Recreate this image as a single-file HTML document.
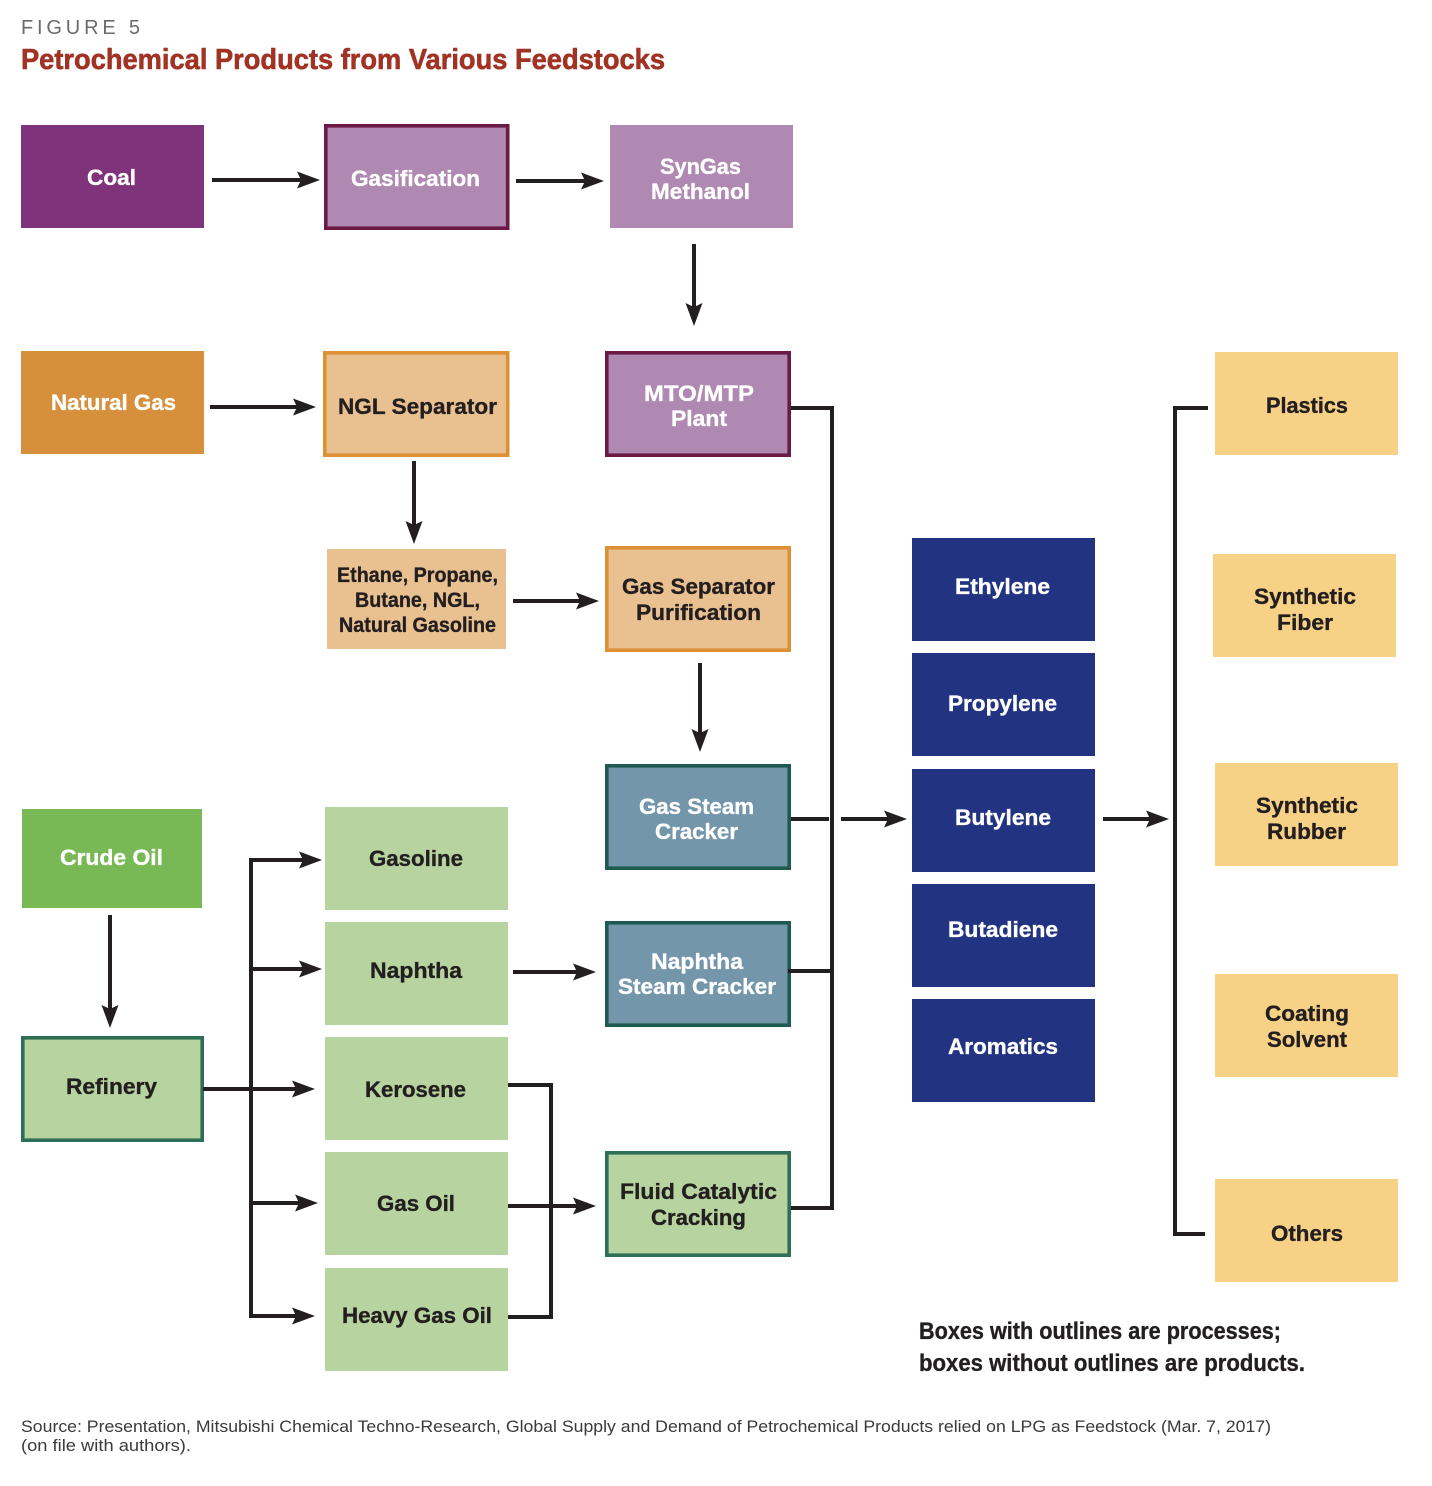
<!DOCTYPE html>
<html><head><meta charset="utf-8"><title>Figure 5</title>
<style>
html,body{margin:0;padding:0;background:#fff}
svg{display:block}
text{font-family:"Liberation Sans",sans-serif}
.w,.d{font-weight:700;font-size:22.5px;stroke-width:.35px}
.w{fill:#fff;stroke:#fff}.d{fill:#231f20;stroke:#231f20}
.l{stroke:#231f20;stroke-width:4;fill:none;stroke-linejoin:miter}
.h{fill:#231f20}
</style></head><body>
<svg width="1432" height="1486" viewBox="0 0 1432 1486" xmlns="http://www.w3.org/2000/svg">
<rect width="1432" height="1486" fill="#fff"/>
<text x="21" y="34" font-size="20" fill="#6a6b6d" textLength="119" lengthAdjust="spacing">FIGURE 5</text>
<text x="21" y="69" font-size="29" font-weight="700" fill="#a13324" stroke="#a13324" stroke-width=".6" textLength="644" lengthAdjust="spacingAndGlyphs">Petrochemical Products from Various Feedstocks</text>

<!-- product boxes -->
<g>
<rect x="21" y="125" width="183" height="103" fill="#7f337a"/>
<rect x="610" y="125" width="183" height="103" fill="#af89b1"/>
<rect x="21" y="351" width="183" height="103" fill="#d68f3a"/>
<rect x="327" y="549" width="179" height="100" fill="#e9c190"/>
<rect x="22" y="809" width="180" height="99" fill="#78b956"/>
<rect x="325" y="807" width="183" height="103" fill="#b7d3a0"/>
<rect x="325" y="922" width="183" height="103" fill="#b7d3a0"/>
<rect x="325" y="1037" width="183" height="103" fill="#b7d3a0"/>
<rect x="325" y="1152" width="183" height="103" fill="#b7d3a0"/>
<rect x="325" y="1268" width="183" height="103" fill="#b7d3a0"/>
<rect x="912" y="538" width="183" height="103" fill="#223382"/>
<rect x="912" y="653" width="183" height="103" fill="#223382"/>
<rect x="912" y="769" width="183" height="103" fill="#223382"/>
<rect x="912" y="884" width="183" height="103" fill="#223382"/>
<rect x="912" y="999" width="183" height="103" fill="#223382"/>
<rect x="1215" y="352" width="183" height="103" fill="#f7d186"/>
<rect x="1213" y="554" width="183" height="103" fill="#f7d186"/>
<rect x="1215" y="763" width="183" height="103" fill="#f7d186"/>
<rect x="1215" y="974" width="183" height="103" fill="#f7d186"/>
<rect x="1215" y="1179" width="183" height="103" fill="#f7d186"/>
</g>
<!-- process boxes -->
<g stroke-width="3.6">
<rect x="325.800" y="125.800" width="181.900" height="102.400" fill="#af89b1" stroke="#6a1a45"/>
<rect x="606.800" y="352.800" width="182.400" height="102.400" fill="#af89b1" stroke="#6a1a45"/>
<rect x="324.800" y="352.800" width="182.900" height="102.400" fill="#e9c190" stroke="#dc9135"/>
<rect x="606.800" y="547.800" width="182.400" height="102.400" fill="#e9c190" stroke="#dc9135"/>
<rect x="606.800" y="765.800" width="182.400" height="102.400" fill="#7496ab" stroke="#1f5a50"/>
<rect x="606.800" y="922.800" width="182.400" height="102.400" fill="#7496ab" stroke="#1f5a50"/>
<rect x="606.800" y="1152.800" width="182.400" height="102.400" fill="#b7d3a0" stroke="#2f6f58"/>
<rect x="22.800" y="1037.800" width="179.400" height="102.400" fill="#b7d3a0" stroke="#2f6f58"/>
</g>

<!-- connector lines -->
<g class="l">
<path d="M212 180H306M516 181H590M694 244V312M210 407H302M414 461V530M513 601H585M700 663V738M841 819H893M1103 819H1155M110 915V1014"/>
<path d="M203 1089H301M251 969H308M251 1203H304M308 860H251V1316H301M513 972H582M508 1206H582"/>
<path d="M508 1085H551V1317H508"/>
<path d="M791 408H832V1208H791"/>
<path d="M791 819H829M788 971H832"/>
<path d="M1208 408H1175V1234H1205"/>
</g>
<!-- arrowheads -->
<g class="h">
<path d="M320 180l-23-8.500 4 8.500-4 8.500z"/>
<path d="M604 181l-23-8.500 4 8.500-4 8.500z"/>
<path d="M316 407l-23-8.500 4 8.500-4 8.500z"/>
<path d="M599 601l-23-8.500 4 8.500-4 8.500z"/>
<path d="M907 819l-23-8.500 4 8.500-4 8.500z"/>
<path d="M1169 819l-23-8.500 4 8.500-4 8.500z"/>
<path d="M322 860l-23-8.500 4 8.500-4 8.500z"/>
<path d="M322 969l-23-8.500 4 8.500-4 8.500z"/>
<path d="M315 1089l-23-8.500 4 8.500-4 8.500z"/>
<path d="M318 1203l-23-8.500 4 8.500-4 8.500z"/>
<path d="M315 1316l-23-8.500 4 8.500-4 8.500z"/>
<path d="M596 972l-23-8.500 4 8.500-4 8.500z"/>
<path d="M596 1206l-23-8.500 4 8.500-4 8.500z"/>
<path d="M694 326l-8.500-23 8.500 4 8.500-4z"/>
<path d="M414 544l-8.500-23 8.500 4 8.500-4z"/>
<path d="M700 752l-8.500-23 8.500 4 8.500-4z"/>
<path d="M110 1028l-8.500-23 8.500 4 8.500-4z"/>
</g>

<!-- labels -->
<g>
<text class="w" x="87" y="185" textLength="49" lengthAdjust="spacingAndGlyphs">Coal</text>
<text class="w" x="351" y="186" textLength="129" lengthAdjust="spacingAndGlyphs">Gasification</text>
<text class="w" x="660" y="174" textLength="81" lengthAdjust="spacingAndGlyphs">SynGas</text>
<text class="w" x="651" y="199" textLength="99" lengthAdjust="spacingAndGlyphs">Methanol</text>
<text class="w" x="51" y="410" textLength="125" lengthAdjust="spacingAndGlyphs">Natural Gas</text>
<text class="d" x="338" y="414" textLength="159" lengthAdjust="spacingAndGlyphs">NGL Separator</text>
<text class="w" x="644" y="401" textLength="110" lengthAdjust="spacingAndGlyphs">MTO/MTP</text>
<text class="w" x="671" y="426" textLength="56" lengthAdjust="spacingAndGlyphs">Plant</text>
<text class="d" x="337" y="582" textLength="161" lengthAdjust="spacingAndGlyphs" style="font-size:21px">Ethane, Propane,</text>
<text class="d" x="355" y="607" textLength="125" lengthAdjust="spacingAndGlyphs" style="font-size:21px">Butane, NGL,</text>
<text class="d" x="339" y="632" textLength="157" lengthAdjust="spacingAndGlyphs" style="font-size:21px">Natural Gasoline</text>
<text class="d" x="622" y="594" textLength="153" lengthAdjust="spacingAndGlyphs">Gas Separator</text>
<text class="d" x="636" y="620" textLength="125" lengthAdjust="spacingAndGlyphs">Purification</text>
<text class="w" x="639" y="814" textLength="115" lengthAdjust="spacingAndGlyphs">Gas Steam</text>
<text class="w" x="655" y="839" textLength="83" lengthAdjust="spacingAndGlyphs">Cracker</text>
<text class="w" x="60" y="865" textLength="103" lengthAdjust="spacingAndGlyphs">Crude Oil</text>
<text class="d" x="369" y="866" textLength="94" lengthAdjust="spacingAndGlyphs">Gasoline</text>
<text class="d" x="370" y="978" textLength="92" lengthAdjust="spacingAndGlyphs">Naphtha</text>
<text class="w" x="651" y="969" textLength="92" lengthAdjust="spacingAndGlyphs">Naphtha</text>
<text class="w" x="618" y="994" textLength="158" lengthAdjust="spacingAndGlyphs">Steam Cracker</text>
<text class="d" x="66" y="1094" textLength="91" lengthAdjust="spacingAndGlyphs">Refinery</text>
<text class="d" x="365" y="1097" textLength="101" lengthAdjust="spacingAndGlyphs">Kerosene</text>
<text class="d" x="377" y="1211" textLength="78" lengthAdjust="spacingAndGlyphs">Gas Oil</text>
<text class="d" x="342" y="1323" textLength="150" lengthAdjust="spacingAndGlyphs">Heavy Gas Oil</text>
<text class="d" x="620" y="1199" textLength="157" lengthAdjust="spacingAndGlyphs">Fluid Catalytic</text>
<text class="d" x="651" y="1225" textLength="95" lengthAdjust="spacingAndGlyphs">Cracking</text>
<text class="w" x="955" y="594" textLength="95" lengthAdjust="spacingAndGlyphs">Ethylene</text>
<text class="w" x="948" y="711" textLength="109" lengthAdjust="spacingAndGlyphs">Propylene</text>
<text class="w" x="955" y="825" textLength="96" lengthAdjust="spacingAndGlyphs">Butylene</text>
<text class="w" x="948" y="937" textLength="110" lengthAdjust="spacingAndGlyphs">Butadiene</text>
<text class="w" x="948" y="1054" textLength="110" lengthAdjust="spacingAndGlyphs">Aromatics</text>
<text class="d" x="1266" y="413" textLength="82" lengthAdjust="spacingAndGlyphs">Plastics</text>
<text class="d" x="1254" y="604" textLength="102" lengthAdjust="spacingAndGlyphs">Synthetic</text>
<text class="d" x="1277" y="630" textLength="56" lengthAdjust="spacingAndGlyphs">Fiber</text>
<text class="d" x="1256" y="813" textLength="102" lengthAdjust="spacingAndGlyphs">Synthetic</text>
<text class="d" x="1267" y="839" textLength="79" lengthAdjust="spacingAndGlyphs">Rubber</text>
<text class="d" x="1265" y="1021" textLength="84" lengthAdjust="spacingAndGlyphs">Coating</text>
<text class="d" x="1267" y="1047" textLength="80" lengthAdjust="spacingAndGlyphs">Solvent</text>
<text class="d" x="1271" y="1241" textLength="72" lengthAdjust="spacingAndGlyphs">Others</text>
</g>

<text x="919" y="1339" font-size="24" font-weight="700" fill="#231f20" stroke="#231f20" stroke-width=".35" textLength="362" lengthAdjust="spacingAndGlyphs">Boxes with outlines are processes;</text>
<text x="919" y="1371" font-size="24" font-weight="700" fill="#231f20" stroke="#231f20" stroke-width=".35" textLength="386" lengthAdjust="spacingAndGlyphs">boxes without outlines are products.</text>
<text x="21" y="1432" font-size="16.500" fill="#3a3a3c" textLength="1250" lengthAdjust="spacingAndGlyphs">Source: Presentation, Mitsubishi Chemical Techno-Research, Global Supply and Demand of Petrochemical Products relied on LPG as Feedstock (Mar. 7, 2017)</text>
<text x="21" y="1451" font-size="16.500" fill="#3a3a3c" textLength="170" lengthAdjust="spacingAndGlyphs">(on file with authors).</text>
</svg>
</body></html>
